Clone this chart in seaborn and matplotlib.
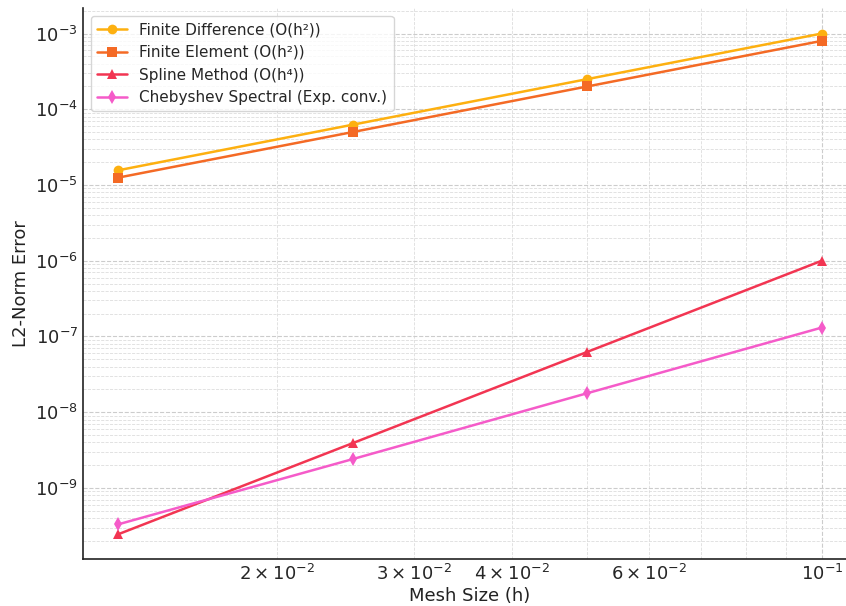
"""Convergence comparison of numerical methods (log-log L2 error vs mesh size)."""
import matplotlib
matplotlib.use("Agg")
import matplotlib.pyplot as plt
import pandas as pd
import seaborn as sns

# mesh sizes
mesh_h = [0.0125, 0.025, 0.05, 0.1]

# L2-norm errors per method
err_fd = [1.5625e-5, 6.25e-5, 2.5e-4, 1.0e-3]
err_fe = [1.25e-5, 5.0e-5, 2.0e-4, 8.0e-4]
err_spline = [2.44e-10, 3.9e-9, 6.25e-8, 1.0e-6]
err_cheb = [3.3e-10, 2.4e-9, 1.78e-8, 1.31e-7]

labels = [
    "Finite Difference (O(h²))",
    "Finite Element (O(h²))",
    "Spline Method (O(h⁴))",
    "Chebyshev Spectral (Exp. conv.)",
]
series = [err_fd, err_fe, err_spline, err_cheb]
colors = ["#FDB010", "#F46A25", "#F23552", "#F55BC9"]
markers = ["o", "s", "^", "d"]

sns.set_style("white")
plt.rcParams["font.family"] = ["DejaVu Sans"]

fig, ax = plt.subplots(figsize=(8.46, 6.06), dpi=100)

for lab, err, col, mk in zip(labels, series, colors, markers):
    df = pd.DataFrame({"h": mesh_h, "err": err})
    sns.lineplot(data=df, x="h", y="err", ax=ax, color=col, marker=mk,
                 markersize=7, markeredgewidth=0, linewidth=1.8, label=lab)

ax.set_xscale("log")
ax.set_yscale("log")

ax.grid(True, which="major", linestyle="--", color="#cccccc", linewidth=0.8)
ax.grid(True, which="minor", linestyle="--", color="#dddddd", linewidth=0.6)
ax.set_axisbelow(True)

ax.tick_params(which="both", direction="in", labelsize=13, color="#333333")
ax.tick_params(which="major", length=6)
ax.tick_params(which="minor", length=3)
sns.despine(ax=ax)
for s in ("left", "bottom"):
    ax.spines[s].set_color("#222222")
    ax.spines[s].set_linewidth(1.2)

ax.set_xlabel("Mesh Size (h)", fontsize=13, color="#222222", labelpad=2)
ax.set_ylabel("L2-Norm Error", fontsize=13, color="#222222")
ax.legend(loc="upper left", fontsize=11, frameon=True, edgecolor="#cccccc")

# the original is cropped on the right, so the axes run past the figure edge
plt.subplots_adjust(left=0.098, right=1.013, top=0.986, bottom=0.077)
plt.savefig("out.png", dpi=100)
